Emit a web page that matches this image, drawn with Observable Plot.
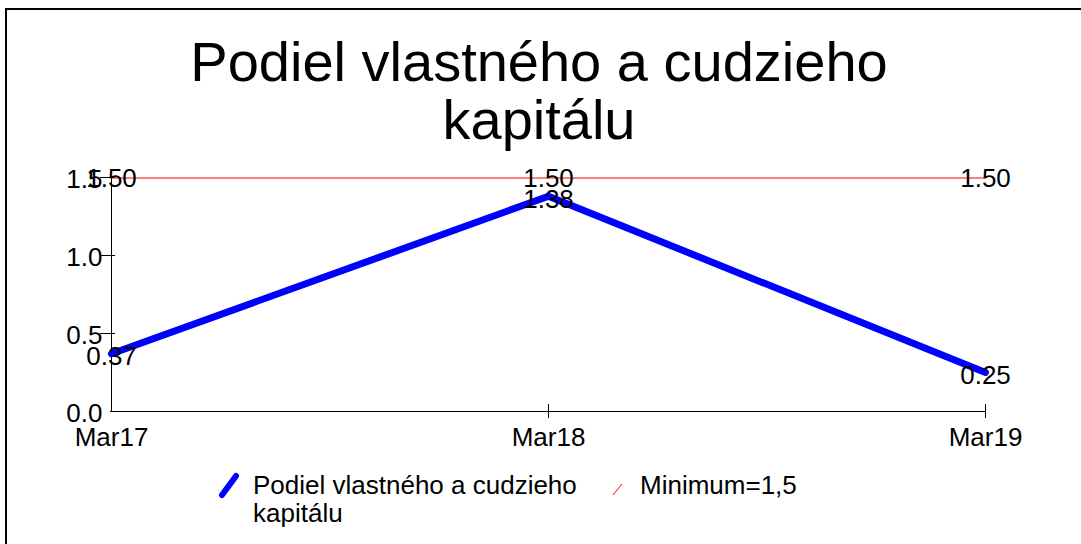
<!DOCTYPE html>
<html>
<head>
<meta charset="utf-8">
<script src="https://cdn.jsdelivr.net/npm/d3@7"></script>
<script src="https://cdn.jsdelivr.net/npm/@observablehq/plot@0.6"></script>
<style>
  html, body { margin: 0; padding: 0; width: 1081px; height: 544px; overflow: hidden; background: #fff; }
  body { position: relative; font-family: "Liberation Sans", Arial, sans-serif; }
  #frame { position: absolute; left: 5px; top: 8px; width: 1200px; height: 700px; border-left: 2px solid #000; border-top: 2px solid #000; }
  #title { position: absolute; left: 0; width: 1078px; top: 33px; text-align: center; font-size: 56px; line-height: 58px; color: #000; }
  #chart { position: absolute; left: 0; top: 0; }
  .leg { position: absolute; font-size: 26px; line-height: 28px; color: #000; }
  #legsvg { position: absolute; left: 0; top: 0; }
</style>
</head>
<body>
<div id="frame"></div>
<div id="chart"></div>
<div id="title">Podiel vlastného a cudzieho<br>kapitálu</div>
<svg id="legsvg" width="1081" height="544"></svg>
<div class="leg" id="leg1" style="left:253px; top:471px; width:340px;"></div>
<div class="leg" id="leg2" style="left:640px; top:471px;"></div>
<script>
// ---- data ----
const categories = ["Mar17", "Mar18", "Mar19"];
const ratioValues = [0.37, 1.38, 0.25];
const minimumValues = [1.5, 1.5, 1.5];
const seriesNames = ["Podiel vlastného a cudzieho kapitálu", "Minimum=1,5"];
const yTicks = [0, 0.5, 1.0, 1.5];
const seriesColors = ["#0000ff", "#ff0000"];

const ratio = categories.map((c, i) => ({cat: c, v: ratioValues[i]}));
const minimum = categories.map((c, i) => ({cat: c, v: minimumValues[i]}));

const chart = Plot.plot({
  width: 1081,
  height: 544,
  marginLeft: 110,
  marginRight: 96,
  marginTop: 177,
  marginBottom: 133,
  style: {fontFamily: "'Liberation Sans', Arial, sans-serif", fontSize: "26px", background: "transparent", color: "#000", overflow: "visible"},
  x: {type: "point", domain: categories, padding: 0, axis: null},
  y: {domain: [0, 1.5], axis: null},
  marks: [
    // axis lines
    Plot.ruleY([0], {stroke: "#000", strokeWidth: 1}),
    Plot.ruleX([categories[0]], {y1: 0, y2: 1.5, stroke: "#000", strokeWidth: 1}),
    // y ticks (crossing) and labels
    Plot.axisY({ticks: yTicks.slice(1), tickSize: 15, dx: 5, tickFormat: () => "", stroke: "#000", label: null}),
    Plot.axisY({ticks: yTicks, tickSize: 0, tickPadding: 8, dy: 2, tickFormat: d3.format(".1f"), fontSize: 26, fill: "#000", label: null}),
    // x ticks (crossing) and labels
    Plot.axisX({ticks: categories.slice(1), tickSize: 14, dy: -7, tickFormat: () => "", stroke: "#000", label: null}),
    Plot.axisX({ticks: categories, tickSize: 0, tickPadding: 16, fontSize: 26, fill: "#000", label: null}),
    // series
    Plot.line(ratio, {x: "cat", y: "v", stroke: seriesColors[0], strokeWidth: 7}),
    Plot.line(minimum, {x: "cat", y: "v", stroke: seriesColors[1], strokeWidth: 1, dy: 0.5}),
    Plot.text(ratio, {x: "cat", y: "v", text: d => d3.format(".2f")(d.v), fontSize: 26, fill: "#000", dy: 3}),
    Plot.text(minimum, {x: "cat", y: "v", text: d => d3.format(".2f")(d.v), fontSize: 26, fill: "#000", dy: 1})
  ]
});
document.getElementById("chart").appendChild(chart);

// legend
document.getElementById("leg1").textContent = seriesNames[0];
document.getElementById("leg2").textContent = seriesNames[1];
const leg = d3.select("#legsvg");
leg.append("line").attr("x1", 222).attr("y1", 495).attr("x2", 236).attr("y2", 476)
  .attr("stroke", seriesColors[0]).attr("stroke-width", 6).attr("stroke-linecap", "round");
leg.append("line").attr("x1", 613).attr("y1", 495).attr("x2", 622).attr("y2", 484)
  .attr("stroke", seriesColors[1]).attr("stroke-width", 1);
</script>
</body>
</html>
